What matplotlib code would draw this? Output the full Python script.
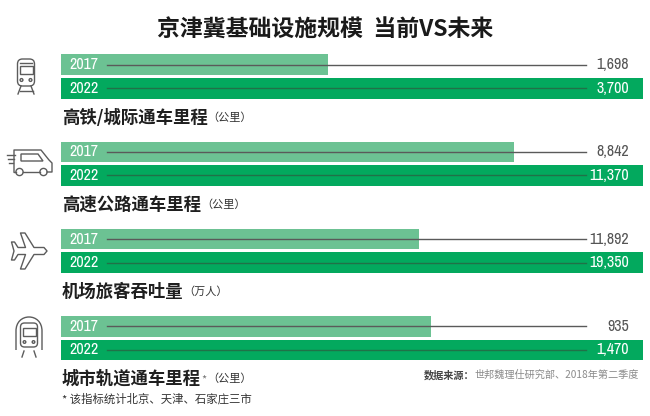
import matplotlib
matplotlib.use("Agg")
import matplotlib.pyplot as plt
from matplotlib import font_manager as fm
from matplotlib.patches import FancyBboxPatch, Circle, Polygon, Rectangle, PathPatch
from matplotlib.path import Path

# ---------------- data ----------------
title = "京津冀基础设施规模  当前VS未来"
categories = ["高铁/城际通车里程", "高速公路通车里程", "机场旅客吞吐量", "城市轨道通车里程"]
units = ["（公里）", "（公里）", "（万人）", "（公里）"]
years = ["2017", "2022"]
values_2017 = [1698, 8842, 11892, 935]
values_2022 = [3700, 11370, 19350, 1470]
source_bold = "数据来源："
source_rest = "世邦魏理仕研究部、2018年第二季度"
footnote = "* 该指标统计北京、天津、石家庄三市"

# ---------------- fonts ----------------
def pick_condensed():
    files = [(f.name, f.fname) for f in fm.fontManager.ttflist]
    bad = ("bold", "italic", "oblique", "light", "thin", "black", "medium")
    prefs = [
        lambda n, p: "narrow" in n.lower(),
        lambda n, p: "condensed" in n.lower(),
        lambda n, p: "condensed" in p.lower(),
    ]
    for pr in prefs:
        for n, p in files:
            if pr(n, p) and not any(b in p.lower().split("/")[-1] for b in bad):
                return fm.FontProperties(fname=p), True
    return fm.FontProperties(family="Roboto"), False

NUMFP, CONDENSED = pick_condensed()
NUMSIZE = 11.5 if CONDENSED else 10.5

CJK = ["Noto Sans CJK SC", "DejaVu Sans"]
plt.rcParams["font.family"] = CJK

W, H = 650, 416
fig = plt.figure(figsize=(W / 100, H / 100), dpi=100)
fig.patch.set_facecolor("white")

base = fig.add_axes([0, 0, 1, 1])
base.set_xlim(0, W)
base.set_ylim(H, 0)
base.axis("off")

C17 = "#6cc293"
C22 = "#03a95e"
GREY = "#5a5a5a"
ICON = "#5c5c5c"

base.text(325, 30, title, ha="center", va="center", fontsize=16.5,
          fontweight="bold", color="#1a1a1a")

def numtext(ax, x, y, s, color, ha, tr):
    fp = NUMFP.copy()
    fp.set_size(NUMSIZE)
    ax.text(x, y, s, transform=tr, ha=ha, va="center", color=color,
            fontproperties=fp)

x0, x1 = 61, 643
top0, step = 53, 87.2
for i, cat in enumerate(categories):
    top = top0 + i * step
    hpx = 47
    ax = fig.add_axes([x0 / W, 1 - (top + hpx) / H, (x1 - x0) / W, hpx / H])
    ax.set_xlim(0, values_2022[i])
    ax.set_ylim(1.5, -0.5)
    ax.axis("off")
    ax.barh([0], [values_2017[i]], height=0.88, color=C17, zorder=1)
    ax.barh([1], [values_2022[i]], height=0.88, color=C22, zorder=1)
    tr = ax.get_yaxis_transform()
    ax.plot([0.079, 0.902], [0, 0], transform=tr, color=GREY, lw=1.0, zorder=2)
    ax.plot([0.079, 0.902], [1, 1], transform=tr, color="#2e5a40", lw=1.0,
            alpha=0.7, zorder=2)
    for row, yr in enumerate(years):
        numtext(ax, 0.014, row, yr, "white", "left", tr)
    numtext(ax, 0.976, 0, f"{values_2017[i]:,}", "#555555", "right", tr)
    numtext(ax, 0.976, 1, f"{values_2022[i]:,}", "white", "right", tr)

    ly = top + 64.5
    t = base.text(62, ly, cat, ha="left", va="center", fontsize=12.5,
                  fontweight="bold", color="#1f1f1f")
    prev = t
    if i == 3:
        prev = base.annotate("*", xy=(1, 0.5), xycoords=t, xytext=(0.5, 0),
                             textcoords="offset points", ha="left", va="center",
                             fontsize=8, color="#777777")
    base.annotate(units[i], xy=(1, 0.5), xycoords=prev, xytext=(0, 0),
                  textcoords="offset points", ha="left", va="center",
                  fontsize=8, color="#333333")

# source line
src = base.text(639, 375, source_rest, ha="right", va="center", fontsize=7.3,
                color="#8a8a8a")
base.annotate(source_bold, xy=(0, 0.5), xycoords=src, xytext=(0, 0),
              textcoords="offset points", ha="right", va="center",
              fontsize=7.3, fontweight="bold", color="#444444")

base.text(62, 399, footnote, ha="left", va="center", fontsize=8.2,
          color="#333333")

# ---------------- icons ----------------
lw = 1.0
# train
base.add_patch(FancyBboxPatch((17.5, 59), 17, 27, boxstyle="round,pad=0,rounding_size=5",
                              fill=False, ec=ICON, lw=lw))
base.plot([20, 32], [63, 63], color=ICON, lw=lw)
base.add_patch(Rectangle((19.5, 66), 13, 8, fill=False, ec=ICON, lw=lw))
base.add_patch(Circle((21.5, 80), 1.4, fill=False, ec=ICON, lw=lw))
base.add_patch(Circle((30.5, 80), 1.4, fill=False, ec=ICON, lw=lw))
base.plot([21, 18], [86, 94], color=ICON, lw=lw)
base.plot([31, 34], [86, 94], color=ICON, lw=lw)
base.plot([19.5, 32.5], [90.5, 90.5], color=ICON, lw=lw)

# van
van = [(14, 172), (14, 150), (41, 150), (49, 160), (52, 163), (52, 172), (47, 172)]
base.plot(*zip(*van), color=ICON, lw=lw)
base.plot([39.5, 23], [172, 172], color=ICON, lw=lw)
base.plot([15.5, 14], [172, 172], color=ICON, lw=lw)
base.add_patch(Polygon([(21, 154), (38, 154), (43, 161), (21, 161)], closed=True,
                       fill=False, ec=ICON, lw=lw))
base.add_patch(Circle((19.5, 172), 3.6, fill=False, ec=ICON, lw=lw))
base.add_patch(Circle((43.5, 172), 3.6, fill=False, ec=ICON, lw=lw))
for (a, b, yy) in [(7, 15, 155), (8, 14, 159), (9, 13, 163)]:
    base.plot([a, b], [yy, yy], color=ICON, lw=lw)

# plane
cx, cy = 29, 251
pl = [(18, 0), (15, -3.5), (5, -3.5), (-4, -18), (-8.5, -18), (-3.5, -3.5), (-11, -3.5),
      (-14.5, -9), (-17.5, -9), (-15, 0), (-17.5, 9), (-14.5, 9), (-11, 3.5), (-3.5, 3.5),
      (-8.5, 18), (-4, 18), (5, 3.5), (15, 3.5)]
base.add_patch(Polygon([(cx + a, cy + b) for a, b in pl], closed=True, fill=False,
                       ec=ICON, lw=lw, joinstyle="round"))

# metro
verts = [(16, 350), (16, 331), (16, 322), (22, 317), (29, 317), (36, 317), (42, 322),
         (42, 331), (42, 350)]
codes = [Path.MOVETO, Path.LINETO, Path.CURVE4, Path.CURVE4, Path.CURVE4,
         Path.CURVE4, Path.CURVE4, Path.CURVE4, Path.LINETO]
base.add_patch(PathPatch(Path(verts, codes), fill=False, ec=ICON, lw=lw))
base.add_patch(FancyBboxPatch((20.5, 323), 17, 24, boxstyle="round,pad=0,rounding_size=4",
                              fill=False, ec=ICON, lw=lw))
base.add_patch(Rectangle((22.5, 328), 13, 8, fill=False, ec=ICON, lw=lw))
base.add_patch(Circle((24.5, 342), 1.3, fill=False, ec=ICON, lw=lw))
base.add_patch(Circle((33.5, 342), 1.3, fill=False, ec=ICON, lw=lw))
base.plot([24, 22], [351, 357], color=ICON, lw=lw)
base.plot([34, 36], [351, 357], color=ICON, lw=lw)

fig.savefig("out.png", dpi=100, facecolor="white")
